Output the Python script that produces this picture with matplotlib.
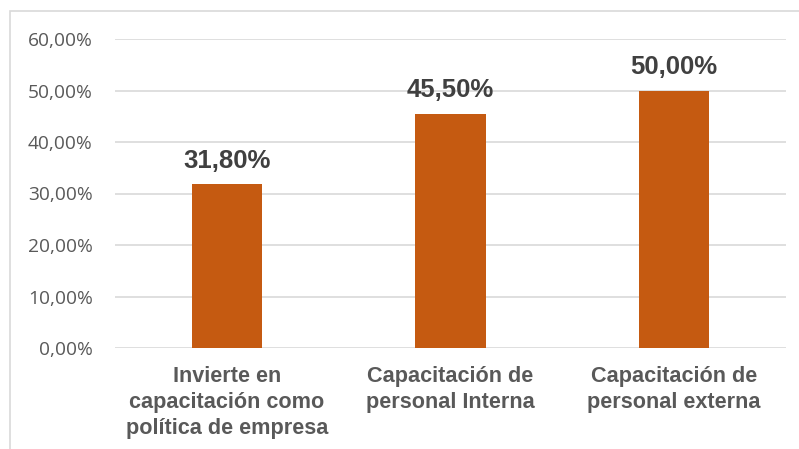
import matplotlib.pyplot as plt
from matplotlib.patches import Rectangle

categories = ['Invierte en\ncapacitación como\npolítica de empresa',
              'Capacitación de\npersonal Interna',
              'Capacitación de\npersonal externa']
values = [31.8, 45.5, 50.0]
yticks = [0, 10, 20, 30, 40, 50, 60]

bar_color = '#C55A11'
grid_color = '#D9D9D9'

fig = plt.figure(figsize=(7.99, 4.49), dpi=100)
ax = fig.add_axes([115/799, 1 - 348/449, (786 - 115)/799, (348 - 39)/449])

# outer chart frame (cut off at right and bottom like the screenshot)
fig.patches.append(Rectangle((10/799, -0.1), 1.2, 0.9755 + 0.1, transform=fig.transFigure,
                             fill=False, edgecolor=grid_color, linewidth=1.2))

x = range(len(categories))
bars = ax.bar(x, values, width=0.313, color=bar_color, zorder=3)

for xi, v in zip(x, values):
    ax.annotate(f'{v:.2f}%'.replace('.', ','), (xi, v), xytext=(0, 12), textcoords='offset points',
                ha='center', va='baseline', fontsize=18.5, fontweight='bold',
                family='Liberation Sans', color='#404040')

ax.set_xlim(-0.5, 2.5)
ax.set_ylim(0, 60)
ax.set_yticks(yticks)
ax.set_yticklabels([f'{t:.2f}%'.replace('.', ',') for t in yticks],
                   family='Open Sans', fontsize=13.8, color='#595959')
ax.set_xticks(list(x))
ax.set_xticklabels(categories, family='Liberation Sans', fontweight='bold',
                   fontsize=15.6, color='#595959', linespacing=1.3)
ax.tick_params(axis='y', length=0, pad=16)
ax.tick_params(axis='x', length=0, pad=13)
ax.grid(axis='y', color=grid_color, linewidth=1.2, zorder=0)
for s in ax.spines.values():
    s.set_visible(False)

fig.savefig('out.png', dpi=100)
